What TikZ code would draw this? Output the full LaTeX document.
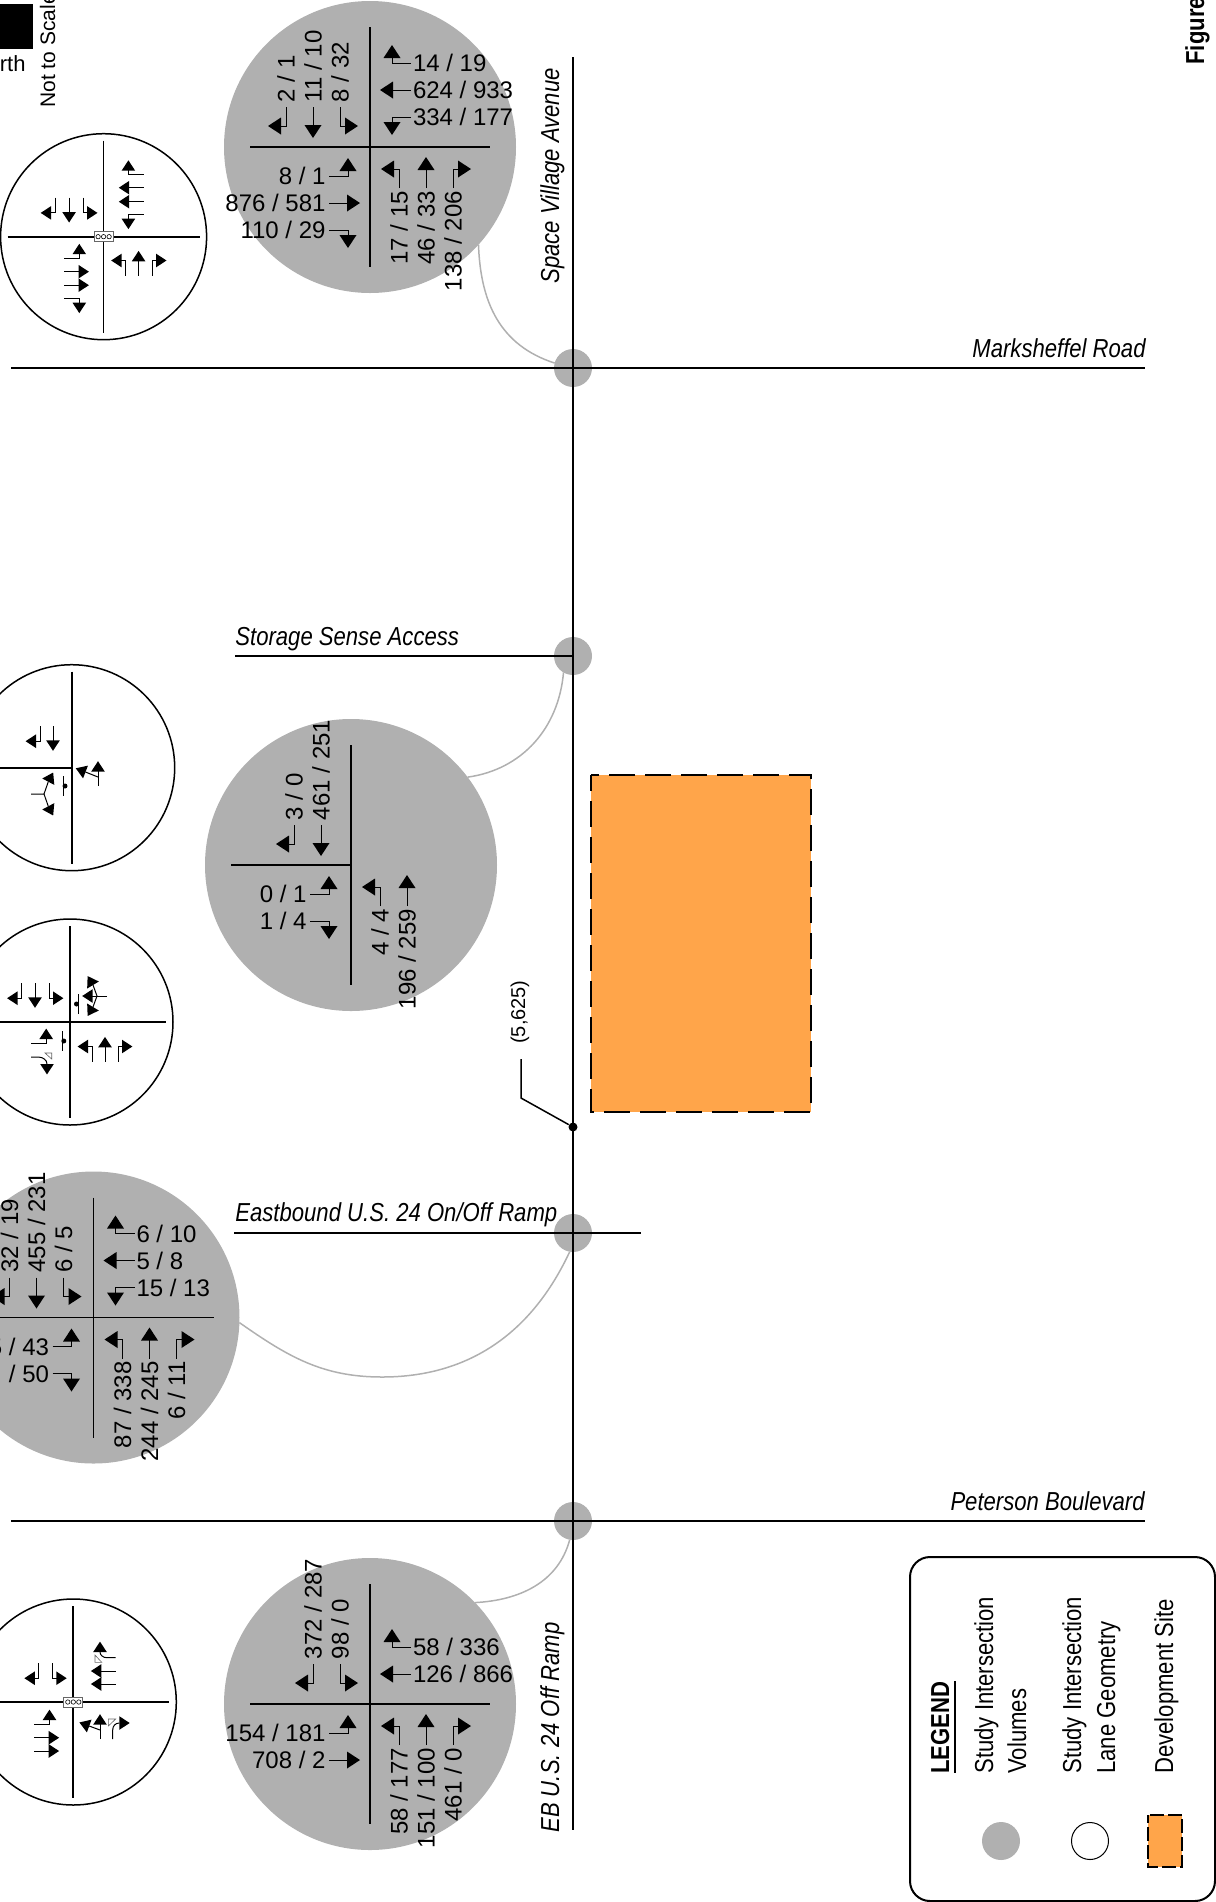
\documentclass[tikz,border=0pt]{standalone}
\usepackage{fontspec}
\setmainfont{Liberation Sans}
\newfontfamily\narrowfont{Liberation Sans}[FakeStretch=0.85]
\usetikzlibrary{calc}
\definecolor{bubblegray}{HTML}{B0B0B0}
\definecolor{siteorange}{HTML}{FFA54A}
\newcommand{\volfont}{\fontsize{12}{14}\selectfont}
\newcommand{\roadfont}{\narrowfont\itshape\fontsize{13}{15}\selectfont}
\newcommand{\keyfont}{\narrowfont\fontsize{13}{15}\selectfont}

\tikzset{
mvline/.style={line width=.5pt},
geo/.style={scale=.8},
vol/.style={font=\volfont,inner sep=0pt,outer sep=0pt,text height=8.6pt,text depth=0pt},
road/.style={line width=.75pt},
roadname/.style={font=\roadfont,inner sep=0pt},
xline/.style={line width=.7pt},
geoline/.style={line width=.85pt},
volbubble/.style={circle,fill=bubblegray,minimum size=146pt,inner sep=0pt,outer sep=0pt},
geobubble/.style={circle,draw,fill=white,line width=.75pt,minimum size=103pt,inner sep=0pt,outer sep=0pt},
isect/.style={circle,fill=bubblegray,minimum size=19pt,inner sep=0pt,outer sep=0pt},
grayline/.style={draw=bubblegray,line width=.75pt},
sitebox/.style={draw,fill=siteorange,line width=1.2pt,dash pattern=on 13pt off 5pt,dash phase=5pt},
keybox/.style={draw,fill=siteorange,line width=1pt,dash pattern=on 7pt off 2pt,dash phase=3pt},
sigbox/.style={rectangle,draw=black!60,fill=white,line width=.4pt,minimum width=9.5pt,minimum height=5pt,inner sep=0pt},
sigbulb/.style={draw,fill=white,line width=.3pt},
chan/.style={draw=black!60,fill=white,line width=.3pt},
thru/.pic={\draw[mvline] (0,0)--(0,19); \fill (-8.5,18)--(8.5,18)--(0,31)--cycle;},
lturn/.pic={\draw[mvline] (0,0)--(0,19)--(-6,19); \fill (-5,10.5)--(-5,27.5)--(-18,19)--cycle;},
rturn/.pic={\draw[mvline] (0,0)--(0,19)--(6,19); \fill (5,10.5)--(5,27.5)--(18,19)--cycle;},
head/.pic={\fill (-8.5,0)--(8.5,0)--(0,13)--cycle;},
stopbar/.pic={\draw[mvline] (0,-10)--(0,10); \fill (1.5,0) circle (2.5);}
}

\newcommand{\legN}[4]{
\coordinate (#1n#2) at ($(#1)+({27*#2-111},-40)$);
\pic at (#1n#2) {#3};
\node[vol,rotate=90,anchor=west] (#1nt#2) at ($(#1n#2)+(0,-5)$) {#4};
}
\newcommand{\legS}[4]{
\coordinate (#1s#2) at ($(#1)+({27*#2+2},41)$);
\pic[rotate=180] at (#1s#2) {#3};
\node[vol,rotate=90,anchor=east] (#1st#2) at ($(#1s#2)+(0,3)$) {#4};
}
\newcommand{\legW}[4]{
\coordinate (#1w#2) at ($(#1)+(-41,{27*#2+2})$);
\pic[rotate=90] at (#1w#2) {#3};
\node[vol,anchor=east] (#1wt#2) at ($(#1w#2)+(-3.5,0)$) {#4};
}
\newcommand{\legE}[4]{
\coordinate (#1e#2) at ($(#1)+(41,{27*#2-111})$);
\pic[rotate=-90] at (#1e#2) {#3};
\node[vol,anchor=west] (#1et#2) at ($(#1e#2)+(2,0)$) {#4};
}

\begin{document}
\begin{tikzpicture}[x=.5pt,y=-.5pt]
\useasboundingbox (0,0) rectangle (1216,1902);

\node[isect] (intA) at (573,368){};
\node[isect] (intB) at (573,656){};
\node[isect] (intC) at (573,1233){};
\node[isect] (intD) at (573,1521){};

\node[volbubble] (volA) at (370,147){};
\node[volbubble] (volB) at (351,865){};
\node[volbubble] (volC) at (93.5,1317.5){};
\node[volbubble] (volD) at (370,1704){};

\coordinate (lowC) at (382,1377);
\draw[grayline] (volA.-42) to[out=-88,in=162,looseness=1.05] (intA.165);
\draw[grayline] (volB.37) to[out=8,in=-95] (intB.-120);
\draw[grayline] (volC.-2) to[out=-35,in=180] (lowC) to[out=0,in=-115] (intC.-100);
\draw[grayline] (volD.44) to[out=3,in=-105] (intD.-100);

% roads
\draw[road] (573,57)--(573,1830);
\draw[road] (11,368)--(1145,368);
\draw[road] (235,656)--(573,656);
\draw[road] (234,1233)--(641,1233);
\draw[road] (11,1521)--(1145,1521);

\node[roadname,anchor=base east] (markname) at (1146,357){Marksheffel Road};
\node[roadname,anchor=base west] (storname) at (235,645){Storage Sense Access};
\node[roadname,anchor=base west] (rampname) at (235,1221){Eastbound U.S. 24 On/Off Ramp};
\node[roadname,anchor=base east] (petename) at (1145,1510){Peterson Boulevard};
\node[roadname,rotate=90,anchor=base west] (spacename) at (559,284){Space Village Avenue};
\node[roadname,rotate=90,anchor=base west] (ebname) at (559,1833){EB U.S. 24 Off Ramp};

\draw[sitebox] (591,775) rectangle (811,1112);

\node[circle,fill,minimum size=4.5pt,inner sep=0pt] (adtdot) at (573,1127){};
\coordinate (adtbend) at (521,1098);
\coordinate (adttop) at (521,1059);
\draw[road] (adttop)--(adtbend)--(adtdot);
\node[font=\fontsize{10}{12}\selectfont,rotate=90,inner sep=0pt] (adtname) at (520,1012){(5,625)};

% volume bubbles
\foreach \n in {volA,volC,volD}
{
\draw[xline] ($(\n)+(0,-120)$)--($(\n)+(0,120)$);
\draw[xline] ($(\n)+(-120,0)$)--($(\n)+(120,0)$);
}
\draw[xline] ($(volB)+(0,-120)$)--($(volB)+(0,120)$);
\draw[xline] ($(volB)+(-120,0)$)--(volB.center);

\legN{volA}{1}{lturn}{2 / 1}
\legN{volA}{2}{thru}{11 / 10}
\legN{volA}{3}{rturn}{8 / 32}
\legE{volA}{1}{lturn}{14 / 19}
\legE{volA}{2}{thru}{624 / 933}
\legE{volA}{3}{rturn}{334 / 177}
\legW{volA}{1}{rturn}{8 / 1}
\legW{volA}{2}{thru}{876 / 581}
\legW{volA}{3}{lturn}{110 / 29}
\legS{volA}{1}{rturn}{17 / 15}
\legS{volA}{2}{thru}{46 / 33}
\legS{volA}{3}{lturn}{138 / 206}

\legN{volB}{2}{lturn}{3 / 0}
\legN{volB}{3}{thru}{461 / 251}
\legW{volB}{1}{rturn}{0 / 1}
\legW{volB}{2}{lturn}{1 / 4}
\legS{volB}{1}{rturn}{4 / 4}
\legS{volB}{2}{thru}{196 / 259}

\legN{volC}{1}{lturn}{32 / 19}
\legN{volC}{2}{thru}{455 / 231}
\legN{volC}{3}{rturn}{6 / 5}
\legE{volC}{1}{lturn}{6 / 10}
\legE{volC}{2}{thru}{5 / 8}
\legE{volC}{3}{rturn}{15 / 13}
\legW{volC}{1}{rturn}{5 / 43}
\legW{volC}{2}{lturn}{/ 50}
\legS{volC}{1}{rturn}{87 / 338}
\legS{volC}{2}{thru}{244 / 245}
\legS{volC}{3}{lturn}{6 / 11}

\legN{volD}{2}{lturn}{372 / 287}
\legN{volD}{3}{rturn}{98 / 0}
\legE{volD}{2}{lturn}{58 / 336}
\legE{volD}{3}{thru}{126 / 866}
\legW{volD}{1}{rturn}{154 / 181}
\legW{volD}{2}{thru}{708 / 2}
\legS{volD}{1}{rturn}{58 / 177}
\legS{volD}{2}{thru}{151 / 100}
\legS{volD}{3}{lturn}{461 / 0}

% lane geometry
\node[geobubble] (geoA) at (103.6,236.7){};
\node[geobubble] (geoB) at (71.7,767.7){};
\node[geobubble] (geoC) at (70,1022){};
\node[geobubble] (geoD) at (73.3,1702){};

\foreach \n in {geoA,geoC,geoD}
{
\draw[geoline] ($(\n)+(0,-96)$)--($(\n)+(0,96)$);
\draw[geoline] ($(\n)+(-96,0)$)--($(\n)+(96,0)$);
}
\draw[geoline] ($(geoB)+(0,-96)$)--($(geoB)+(0,96)$);
\draw[geoline] ($(geoB)+(-96,0)$)--(geoB.center);

\foreach \n in {A,D}
{
\node[sigbox] (sig\n) at (geo\n){};
\foreach \d in {-5.5,0,5.5}
\draw[sigbulb] ($(sig\n)+(\d,0)$) circle (2.2);
}

\foreach \d/\mv in {-48.5/lturn,-34.5/thru,-20.5/rturn}
\pic[geo] at ($(geoA)+(\d,-39)$) {\mv};
\foreach \d/\mv in {-62/lturn,-49/thru,-35/thru,-22/rturn}
\pic[geo,rotate=-90] at ($(geoA)+(40,\d)$) {\mv};
\foreach \d/\mv in {21.5/rturn,35/thru,48.5/thru,62/lturn}
\pic[geo,rotate=90] at ($(geoA)+(-39.5,\d)$) {\mv};
\foreach \d/\mv in {22/rturn,35/thru,48.5/lturn}
\pic[geo,rotate=180] at ($(geoA)+(\d,39)$) {\mv};

\foreach \d/\mv in {-31.7/lturn,-18.7/thru}
\pic[geo] at ($(geoB)+(\d,-41.7)$) {\mv};
\pic[geo,rotate=180] at ($(geoB)+(26.3,18.3)$) {thru};
\draw[mvline] ($(geoB)+(26.3,9.3)$)--($(geoB)+(13.8,4.3)$);
\pic[geo,rotate=249] at ($(geoB)+(13.8,4.3)$) {head};
\draw[mvline] ($(geoB)+(-40.7,26.3)$)--($(geoB)+(-27.7,26.3)$)--($(geoB)+(-23.4,14)$);
\draw[mvline] ($(geoB)+(-27.7,26.3)$)--($(geoB)+(-23.4,38.6)$);
\pic[geo,rotate=152] at ($(geoB)+(-23.4,14)$) {head};
\pic[geo,rotate=28] at ($(geoB)+(-23.4,38.6)$) {head};
\pic at ($(geoB)+(-8.2,18.3)$) {stopbar};

\foreach \d/\mv in {-48.5/lturn,-35/thru,-21/rturn}
\pic[geo] at ($(geoC)+(\d,-39)$) {\mv};
\pic[geo,rotate=-90] at ($(geoC)+(37,-26)$) {thru};
\draw[mvline] ($(geoC)+(23,-37)$)--($(geoC)+(27,-26)$)--($(geoC)+(23,-15)$);
\pic[geo,rotate=211] at ($(geoC)+(23,-37)$) {head};
\pic[geo,rotate=-31] at ($(geoC)+(23,-15)$) {head};
\pic[rotate=180] at ($(geoC)+(8,-18)$) {stopbar};
\pic[geo,rotate=90] at ($(geoC)+(-39,21)$) {rturn};
\draw[mvline] ($(geoC)+(-39,35)$)--($(geoC)+(-32,35)$) .. controls ($(geoC)+(-27,35)$) and ($(geoC)+(-23,38)$) .. ($(geoC)+(-23,42)$);
\pic[geo] at ($(geoC)+(-23,42)$) {head};
\draw[chan] ($(geoC)+(-25,31)$)--($(geoC)+(-18.3,31)$)--($(geoC)+(-18.3,37)$)--cycle;
\pic at ($(geoC)+(-7.7,19)$) {stopbar};
\foreach \d/\mv in {22/rturn,35/thru,48/lturn}
\pic[geo,rotate=180] at ($(geoC)+(\d,39.7)$) {\mv};

\foreach \d/\mv in {-34.5/lturn,-21/rturn}
\pic[geo] at ($(geoD)+(\d,-39)$) {\mv};
\draw[mvline] ($(geoD)+(42.4,-44.3)$)--($(geoD)+(33.7,-44.3)$) .. controls ($(geoD)+(29.7,-44.3)$) and ($(geoD)+(26.7,-47)$) .. ($(geoD)+(26.7,-50)$);
\pic[geo,rotate=180] at ($(geoD)+(26.7,-50)$) {head};
\draw[chan] ($(geoD)+(21.7,-47)$)--($(geoD)+(21.7,-39.7)$)--($(geoD)+(28.4,-39.7)$)--cycle;
\foreach \d in {-31,-18}
\pic[geo,rotate=-90] at ($(geoD)+(42.4,\d)$) {thru};
\pic[geo,rotate=90] at ($(geoD)+(-39,22)$) {rturn};
\foreach \d in {35.7,49}
\pic[geo,rotate=90] at ($(geoD)+(-39,\d)$) {thru};
\pic[geo,rotate=180] at ($(geoD)+(26.7,37)$) {thru};
\draw[mvline] ($(geoD)+(26.7,28)$)--($(geoD)+(15.9,24)$);
\pic[geo,rotate=250] at ($(geoD)+(15.9,24)$) {head};
\draw[mvline] ($(geoD)+(39.4,37)$)--($(geoD)+(39.4,28)$) .. controls ($(geoD)+(39.4,24)$) and ($(geoD)+(42,21)$) .. ($(geoD)+(46,21)$);
\pic[geo,rotate=90] at ($(geoD)+(46,21)$) {head};
\draw[chan] ($(geoD)+(35,17)$)--($(geoD)+(42.4,17)$)--($(geoD)+(35,24)$)--cycle;

% north arrow block and figure title
\fill (-4,4) rectangle (32.7,49);
\node[font=\fontsize{11}{13}\selectfont,anchor=base east,inner sep=0pt] (northname) at (26,71){North};
\node[font=\fontsize{10.5}{13}\selectfont,rotate=90,anchor=base west,inner sep=0pt] (scalename) at (55,108){Not to Scale};
\node[font=\narrowfont\bfseries\fontsize{13}{16}\selectfont,rotate=90,anchor=base west,inner sep=0pt] (figname) at (1204,65){Figure};

% legend
\draw[line width=1pt,rounded corners=10pt] (910,1557) rectangle (1215,1901);
\node[font=\keyfont\bfseries,rotate=90,anchor=base west,inner sep=0pt] (keyname) at (949,1774){LEGEND};
\draw[road] (955,1681)--(955,1773);
\node[font=\keyfont,rotate=90,anchor=base west,inner sep=0pt] (keyvola) at (993,1774){Study Intersection};
\node[font=\keyfont,rotate=90,anchor=base west,inner sep=0pt] (keyvolb) at (1026,1774){Volumes};
\node[font=\keyfont,rotate=90,anchor=base west,inner sep=0pt] (keygeoa) at (1081,1774){Study Intersection};
\node[font=\keyfont,rotate=90,anchor=base west,inner sep=0pt] (keygeob) at (1115,1774){Lane Geometry};
\node[font=\keyfont,rotate=90,anchor=base west,inner sep=0pt] (keysite) at (1173,1774){Development Site};
\node[circle,fill=bubblegray,minimum size=19pt,inner sep=0pt] (keyvolc) at (1001,1841){};
\node[circle,draw,line width=.5pt,minimum size=18.5pt,inner sep=0pt] (keygeoc) at (1090,1841){};
\draw[keybox] (1148,1815) rectangle (1182,1867);

\end{tikzpicture}
\end{document}
